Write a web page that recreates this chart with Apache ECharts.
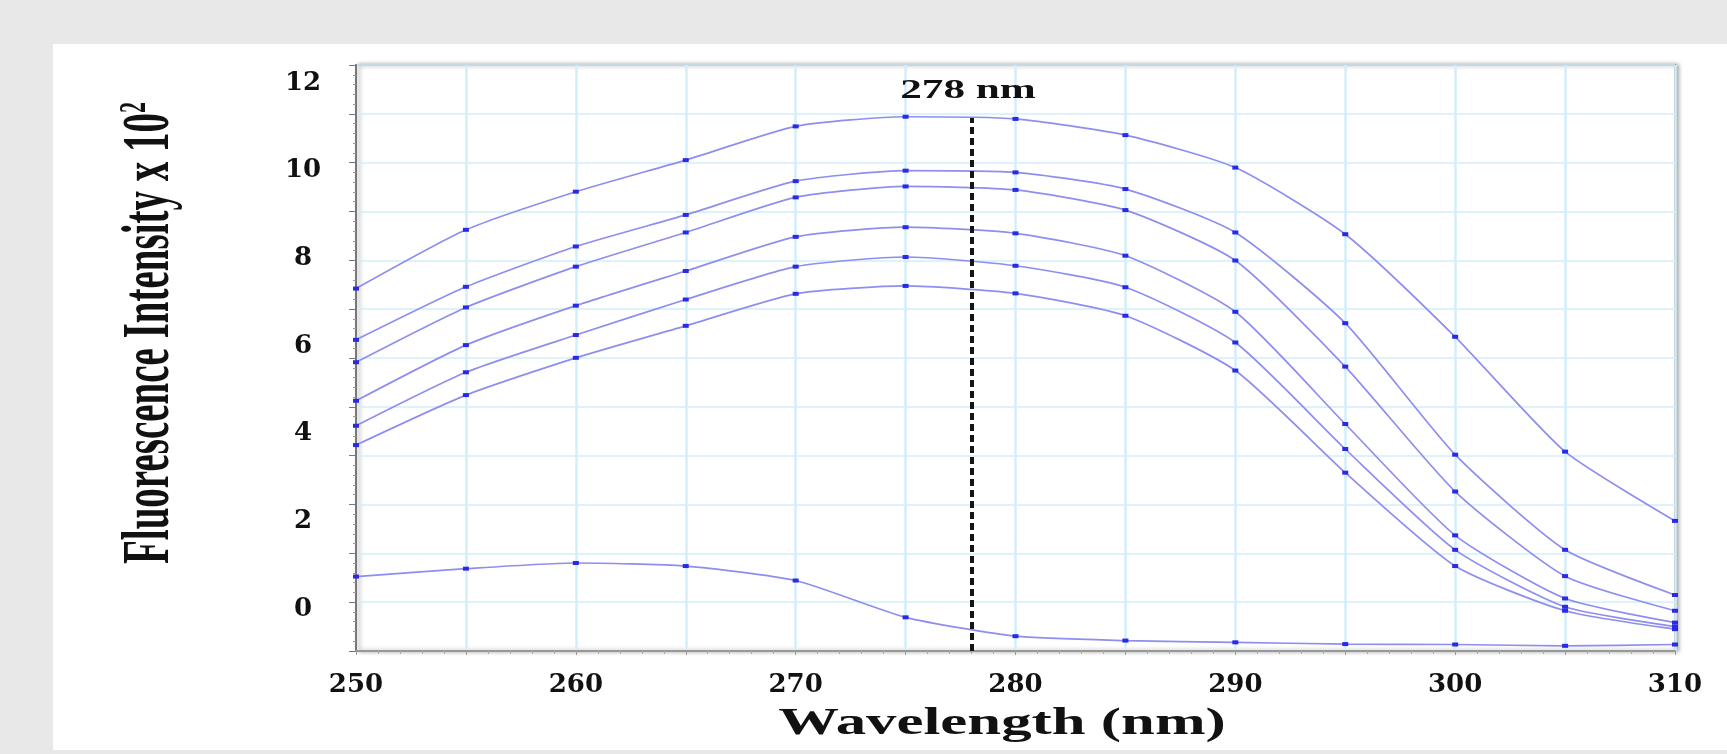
<!DOCTYPE html>
<html>
<head>
<meta charset="utf-8">
<script src="https://cdn.jsdelivr.net/npm/echarts@6/dist/echarts.min.js"></script>
<style>
  html, body { margin: 0; padding: 0; background: #e8e8e8; width: 1727px; height: 754px; overflow: hidden; }
  #chart { position: absolute; left: 53px; top: 44px; width: 1674px; height: 706px; background: #ffffff; }
</style>
</head>
<body>
<div id="chart"></div>
<script>
// wavelength (nm)
const wavelengths = [250, 255, 260, 265, 270, 275, 280, 285, 290, 295, 300, 305, 310]

// fluorescence intensity x 10^2, one array per curve (top to bottom)
const curve1 = [7.31, 8.65, 9.52, 10.24, 11.01, 11.23, 11.18, 10.81, 10.07, 8.55, 6.21, 3.59, 2.01]
const curve2 = [6.14, 7.35, 8.27, 8.99, 9.76, 10.00, 9.96, 9.58, 8.59, 6.52, 3.52, 1.35, 0.32]
const curve3 = [5.63, 6.88, 7.81, 8.59, 9.39, 9.64, 9.56, 9.10, 7.95, 5.53, 2.68, 0.75, -0.04]
const curve4 = [4.75, 6.02, 6.92, 7.71, 8.49, 8.71, 8.57, 8.06, 6.78, 4.22, 1.68, 0.24, -0.31]
const curve5 = [4.18, 5.40, 6.25, 7.06, 7.81, 8.03, 7.83, 7.34, 6.08, 3.65, 1.35, 0.05, -0.40]
const curve6 = [3.74, 4.88, 5.73, 6.46, 7.19, 7.37, 7.20, 6.69, 5.44, 3.11, 0.98, -0.04, -0.46]
const curve7 = [0.74, 0.92, 1.05, 0.98, 0.65, -0.19, -0.62, -0.72, -0.76, -0.80, -0.81, -0.84, -0.81]

const curves = [curve1, curve2, curve3, curve4, curve5, curve6, curve7]

// y tick labels
const yLabels = [0, 2, 4, 6, 8, 10, 12]

// peak marker
const peakWavelength = 278
const peakLineTop = 11.2

const yMin = -0.958
const yMax = 12.41

const labelFont = {
  fontFamily: 'DejaVu Serif',
  fontWeight: 'bold',
  fontSize: 26,
  color: '#111'
}

const chart = echarts.init(document.getElementById('chart'))

const series = curves.map((values, i) => {
  const s = {
    name: 'c' + (i + 1),
    type: 'line',
    yAxisIndex: 0,
    data: values.map((v, j) => [wavelengths[j], v]),
    smooth: 0.2,
    symbol: 'rect',
    symbolSize: [6, 4],
    itemStyle: { color: '#2a2ae6' },
    lineStyle: { color: '#8e8ef0', width: 1.7 },
    z: 3
  }
  if (i === 0) {
    s.markLine = {
      silent: true,
      symbol: ['none', 'none'],
      lineStyle: { color: '#151515', width: 4, type: [7, 4] },
      label: { show: false },
      data: [[{ coord: [peakWavelength, yMin] }, { coord: [peakWavelength, peakLineTop] }]]
    }
  }
  return s
})

const option = {
  animation: false,
  grid: {
    left: 303,
    top: 21,
    right: 52,
    bottom: 99,
    show: true,
    backgroundColor: '#fff',
    borderColor: '#9a9a9a',
    borderWidth: 2,
    shadowColor: 'rgba(0,0,0,0.3)',
    shadowBlur: 4,
    shadowOffsetX: 3
  },
  xAxis: {
    type: 'value',
    min: 250,
    max: 310,
    interval: 5,
    axisLine: { show: true, onZero: false, lineStyle: { color: '#999', width: 2 } },
    axisTick: { show: true, length: 4, lineStyle: { color: '#999' } },
    minorTick: { show: true, splitNumber: 5, length: 3, lineStyle: { color: '#aaa' } },
    splitLine: { show: true, lineStyle: { color: '#d3eefb', width: 2.5 } },
    axisLabel: Object.assign({
      margin: 34,
      verticalAlign: 'middle',
      formatter: v => (v % 10 === 0 ? String(v) : '')
    }, labelFont)
  },
  yAxis: [
    {
      type: 'value',
      min: yMin,
      max: yMax,
      axisLine: { show: false },
      axisTick: { show: false },
      splitLine: { show: false },
      axisLabel: Object.assign({
        customValues: yLabels,
        align: 'center',
        margin: 53
      }, labelFont)
    },
    {
      type: 'value',
      position: 'left',
      min: 0,
      max: 12,
      interval: 1,
      axisLine: { show: true, lineStyle: { color: '#777', width: 2 } },
      axisTick: { show: true, length: 7, lineStyle: { color: '#777' } },
      minorTick: { show: true, splitNumber: 5, length: 3, lineStyle: { color: '#999' } },
      splitLine: { show: true, lineStyle: { color: '#d3eefb', width: 1.5 } },
      axisLabel: { show: false }
    }
  ],
  graphic: [
    {
      type: 'text',
      x: 97,
      y: 289,
      z: 100,
      rotation: Math.PI / 2,
      scaleY: 1.75,
      style: {
        text: 'Fluorescence Intensity x 10{sup|2}',
        fontFamily: 'Liberation Serif',
        fontWeight: 'bold',
        fontSize: 39,
        fill: '#111',
        align: 'center',
        verticalAlign: 'middle',
        rich: {
          sup: { fontFamily: 'Liberation Serif', fontWeight: 'bold', fontSize: 22, verticalAlign: 'top', fill: '#111' }
        }
      }
    },
    {
      type: 'text',
      x: 949,
      y: 680,
      z: 100,
      scaleX: 1.6,
      style: {
        text: 'Wavelength (nm)',
        fontFamily: 'Liberation Serif',
        fontWeight: 'bold',
        fontSize: 38,
        fill: '#111',
        align: 'center',
        verticalAlign: 'middle'
      }
    },
    {
      type: 'text',
      x: 915,
      y: 47,
      z: 100,
      scaleX: 1.6,
      style: {
        text: peakWavelength + ' nm',
        fontFamily: 'Liberation Serif',
        fontWeight: 'bold',
        fontSize: 27,
        fill: '#111',
        align: 'center',
        verticalAlign: 'middle'
      }
    }
  ],
  series: series
}

chart.setOption(option)
</script>
</body>
</html>
